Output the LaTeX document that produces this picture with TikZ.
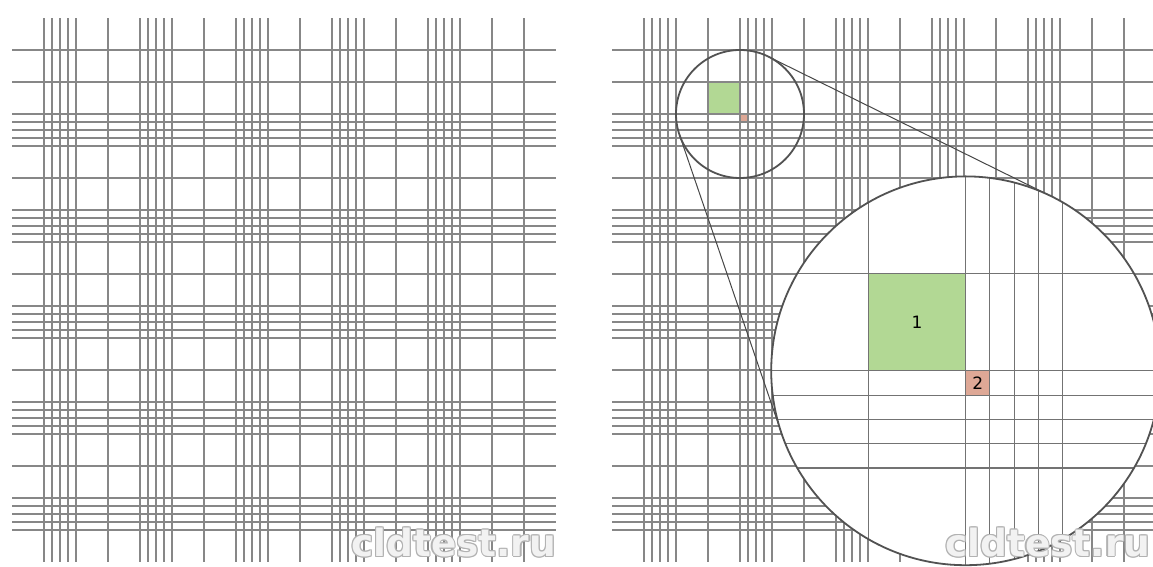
\documentclass[tikz,border=0pt]{standalone}
\usepackage{fontspec}
\newfontfamily\wmfont{DejaVu Sans}
\newfontfamily\labfont{DejaVu Sans}
\begin{document}
\begin{tikzpicture}[x=1pt,y=1pt,
  gridline/.style={draw=black!47, line width=1.6pt},
  zoomline/.style={draw=black!55, line width=1.1pt},
  circ/.style={draw=black!68, line width=1.8pt},
  tangentline/.style={draw=black!72, line width=1pt},
  greenfill/.style={fill={rgb,255:red,178;green,216;blue,148}},
  redfill/.style={fill={rgb,255:red,222;green,168;blue,150}},
  lab/.style={font=\labfont\fontsize{17}{17}\selectfont, text=black, inner sep=0pt},
  wmshadow/.style={font=\wmfont\bfseries\fontsize{37.5}{37.5}\selectfont, text=black!30, inner sep=0pt, anchor=base west},
  wmtop/.style={font=\wmfont\bfseries\fontsize{37.5}{37.5}\selectfont, text=black!5, inner sep=0pt, anchor=base west}
]
\useasboundingbox (0,0) rectangle (1153,567);
\clip (0,0) rectangle (1153,567);
\fill[white] (0,0) rectangle (1153,567);
\def\Slist{4,5,6,7,8,12,16,17,18,19,20,24,28,29,30,31,32,36,40,41,42,43,44,48,52,53,54,55,56,60,64}
% left grid
\begin{scope}[shift={(12,5)}, x=8pt, y=8pt]
  \foreach \s in \Slist {
    \draw[gridline] (\s,0) -- (\s,68);
    \draw[gridline] (0,\s) -- (68,\s);
  }
\end{scope}
% right grid with zoom
\begin{scope}[shift={(612,5)}, x=8pt, y=8pt]
  \fill[greenfill] (12,56) rectangle (16,60);
  \fill[redfill] (16,55) rectangle (17,56);
  \foreach \s in \Slist {
    \draw[gridline] (\s,0) -- (\s,68);
    \draw[gridline] (0,\s) -- (68,\s);
  }
  \coordinate (c1) at (16,56);
  \coordinate (c2) at (44.2,23.9);
  \pgfmathsetmacro\dd{veclen(28.2,-32.1)}
  \pgfmathsetmacro\phi{acos((8-24.3)/\dd)}
  \pgfmathsetmacro\th{atan2(-32.1,28.2)}
  \pgfmathsetmacro\aA{\th+\phi}
  \pgfmathsetmacro\aB{\th-\phi}
  \coordinate (t1a) at ({16+8*cos(\aA)},{56+8*sin(\aA)});
  \coordinate (t2a) at ({44.2+24.3*cos(\aA)},{23.9+24.3*sin(\aA)});
  \coordinate (t1b) at ({16+8*cos(\aB)},{56+8*sin(\aB)});
  \coordinate (t2b) at ({44.2+24.3*cos(\aB)},{23.9+24.3*sin(\aB)});
  \draw[tangentline] (t1a) -- (t2a);
  \draw[tangentline] (t1b) -- (t2b);
  \begin{scope}
    \clip (c2) circle [radius=194.4pt];
    \fill[white] (c2) circle [radius=194.4pt];
    \begin{scope}[shift={(44.2,23.9)}, scale=3.0375, shift={(-16,-56)}]
      \fill[greenfill] (12,56) rectangle (16,60);
      \fill[redfill] (16,55) rectangle (17,56);
      \foreach \s in \Slist {
        \draw[zoomline] (\s,0) -- (\s,68);
        \draw[zoomline] (0,\s) -- (68,\s);
      }
      \node[lab] (one) at (14,58) {1};
      \node[lab] (two) at (16.5,55.5) {2};
    \end{scope}
  \end{scope}
  \draw[circ] (c1) circle [radius=64pt];
  \draw[circ] (c2) circle [radius=194.4pt];
\end{scope}
% watermarks
\foreach \wx/\nm in {351/wl,945/wr} {
  \foreach \dx/\dy in {-1.1/0,1.1/0,0/-1.1,0/1.1,-0.8/-0.8,0.8/0.8,-0.8/0.8,0.8/-0.8} {
    \node[wmshadow] at (\wx+\dx,10.3+\dy) {cldtest.ru};
  }
  \node[wmtop] (\nm) at (\wx,10.3) {cldtest.ru};
}
\end{tikzpicture}
\end{document}
